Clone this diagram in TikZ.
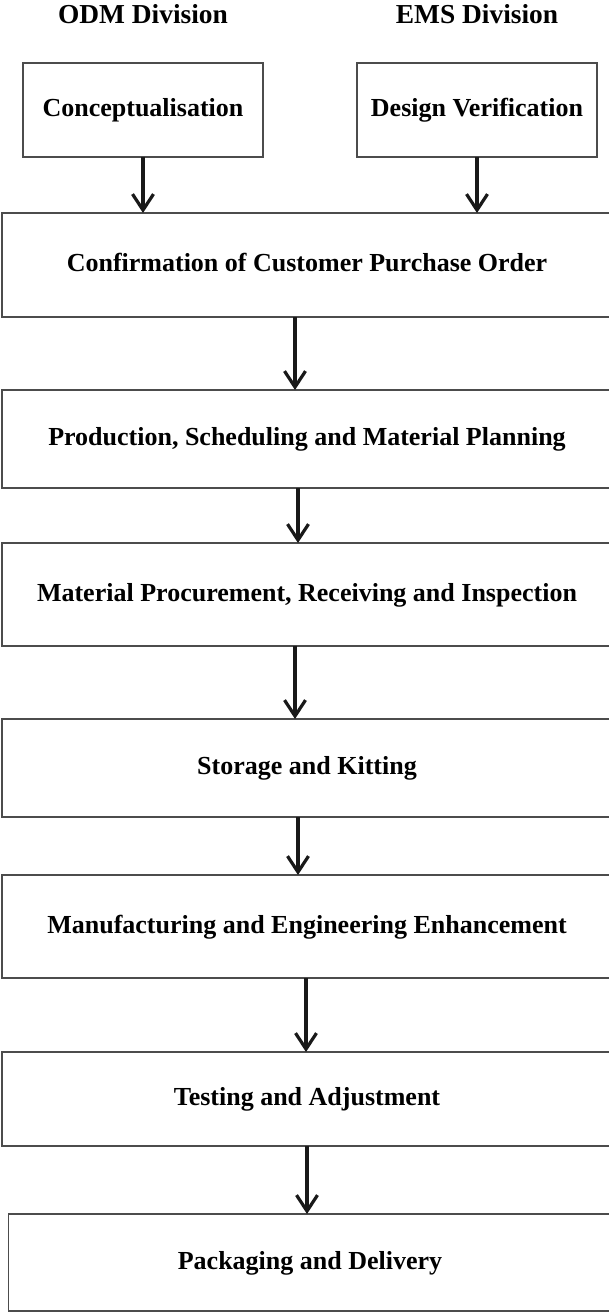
\documentclass[tikz,border=0pt]{standalone}
\usepackage{fontspec}
\setmainfont{Liberation Serif}
\usetikzlibrary{arrows.meta}

\begin{document}
\begin{tikzpicture}[x=0.5pt, y=-0.5pt,
    font=\fontsize{13}{15}\selectfont\bfseries,
    head/.style={font=\fontsize{13.7}{15}\selectfont\bfseries},
    box/.style={draw=black!70, line width=0.7pt, inner sep=0pt, outer sep=0pt,
                text height=0.68em, text depth=0pt},
    arr/.style={line width=1.6pt, draw=black!90, -{Straight Barb[length=8pt, width=10.5pt]}}]
    \useasboundingbox (0,0) rectangle (609,1312);

    % --- Divisions ---
    \node[head] (odm) at (143,14) {ODM Division};
    \node[head] (ems) at (477,14) {EMS Division};
    \node[box, minimum width=120pt, minimum height=47pt] (concept) at (143,110) {Conceptualisation};
    \node[box, minimum width=120pt, minimum height=47pt] (design) at (477,110) {Design Verification};

    % --- Main chain ---
    \node[box, minimum width=305pt, minimum height=52pt] (confirm) at (307,265) {Confirmation of Customer Purchase Order};
    \node[box, minimum width=305pt, minimum height=49pt] (prod) at (307,439) {Production, Scheduling and Material Planning};
    \node[box, minimum width=305pt, minimum height=51.5pt] (mat) at (307,594.5) {Material Procurement, Receiving and Inspection};
    \node[box, minimum width=305pt, minimum height=49pt] (stor) at (307,768) {Storage and Kitting};
    \node[box, minimum width=305pt, minimum height=51.5pt] (manu) at (307,926.5) {Manufacturing and Engineering Enhancement};
    \node[box, minimum width=305pt, minimum height=47pt] (test) at (307,1099) {Testing and Adjustment};
    \node[box, minimum width=301.75pt, minimum height=48.5pt] (pack) at (310,1262.5) {Packaging and Delivery};

    % Arrows
    \draw[arr] (concept) -- (confirm.north -| concept);
    \draw[arr] (design) -- (confirm.north -| design);
    \foreach \a/\b/\s in {confirm/prod/-6pt, prod/mat/-4.5pt, mat/stor/-6pt,
                          stor/manu/-4.5pt, manu/test/-0.5pt, test/pack/0pt}
        \draw[arr] ([xshift=\s]\a.south) -- ([xshift=\s]\a.south |- \b.north);
\end{tikzpicture}
\end{document}
